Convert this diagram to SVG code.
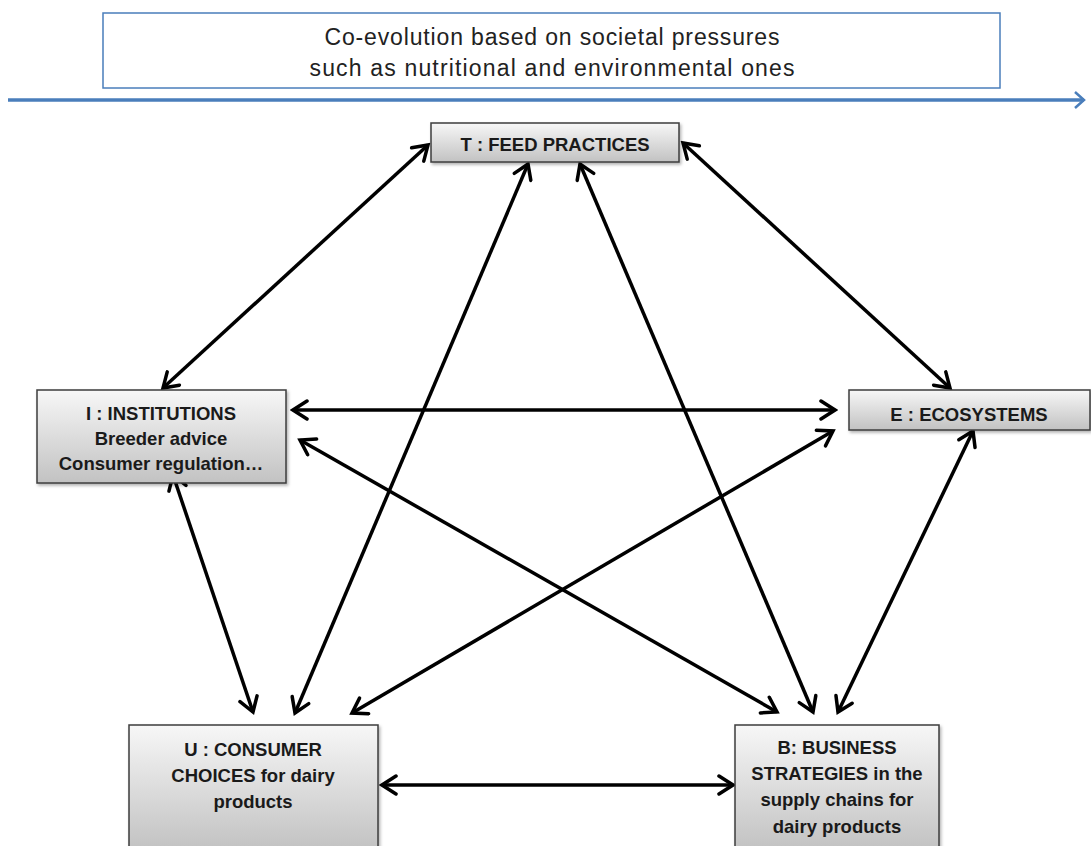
<svg xmlns="http://www.w3.org/2000/svg" width="1091" height="846" viewBox="0 0 1091 846">
<defs>
<linearGradient id="boxGrad" x1="0" y1="0" x2="0" y2="1">
<stop offset="0" stop-color="#f7f7f7"/>
<stop offset="1" stop-color="#c2c2c2"/>
</linearGradient>
<filter id="shadow" x="-10%" y="-10%" width="130%" height="140%">
<feDropShadow dx="1.5" dy="2" stdDeviation="1.5" flood-color="#000" flood-opacity="0.3"/>
</filter>
<marker id="head" markerUnits="userSpaceOnUse" viewBox="0 0 22 22" markerWidth="22" markerHeight="22" refX="19" refY="11" orient="auto-start-reverse">
<path d="M5,2 L19,11 L5,20" fill="none" stroke="#000" stroke-width="3.5" stroke-linecap="round" stroke-linejoin="miter"/>
</marker>
<marker id="blueHead" markerUnits="userSpaceOnUse" viewBox="0 0 16 20" markerWidth="16" markerHeight="20" refX="13" refY="10" orient="auto">
<path d="M4,2 L13,10 L4,18" fill="none" stroke="#4a7ebb" stroke-width="2.5"/>
</marker>
</defs>
<style>
.box{fill:url(#boxGrad);stroke:#3c3c3c;stroke-width:1.5;filter:url(#shadow)}
.lbl{font-family:"Liberation Sans",Arial,sans-serif;font-weight:bold;font-size:18.5px;fill:#1a1a1a;text-anchor:middle}
.top{font-family:"Liberation Sans",Arial,sans-serif;font-size:23px;fill:#222;text-anchor:middle}
.conn{stroke:#000;stroke-width:3.5;fill:none;marker-start:url(#head);marker-end:url(#head)}
</style>
<rect x="0" y="0" width="1091" height="846" fill="#fff"/>
<g id="banner">
<rect x="103" y="13" width="897" height="75" fill="#fff" stroke="#4a7ebb" stroke-width="1.5"/>
<text class="top" x="552" y="45" textLength="455" lengthAdjust="spacing">Co-evolution based on societal pressures</text>
<text class="top" x="552" y="76" textLength="485" lengthAdjust="spacing">such as nutritional and environmental ones</text>
</g>
<g id="timeline">
<line x1="8" y1="100" x2="1084" y2="100" stroke="#4a7ebb" stroke-width="3.5" marker-end="url(#blueHead)"/>
</g>
<g id="connectors">
<line class="conn" x1="428" y1="145" x2="163" y2="388"/>
<line class="conn" x1="683" y1="143" x2="950" y2="388"/>
<line class="conn" x1="528" y1="164" x2="295" y2="713"/>
<line class="conn" x1="580" y1="164" x2="813" y2="712"/>
<line class="conn" x1="293" y1="410" x2="835" y2="410"/>
<line class="conn" x1="300" y1="440" x2="777" y2="712"/>
<line class="conn" x1="833" y1="431" x2="352" y2="713"/>
<line class="conn" x1="973" y1="431" x2="838" y2="712"/>
<line class="conn" x1="173" y1="475" x2="253" y2="712"/>
<line class="conn" x1="382" y1="785" x2="733" y2="785"/>
</g>
<g id="node-T">
<rect class="box" x="431" y="123" width="248" height="39"/>
<text class="lbl" x="555" y="151">T : FEED PRACTICES</text>
</g>
<g id="node-I">
<rect class="box" x="37" y="390" width="249" height="93"/>
<text class="lbl" x="161" y="420">I : INSTITUTIONS</text>
<text class="lbl" x="161" y="445">Breeder advice</text>
<text class="lbl" x="161" y="470">Consumer regulation…</text>
</g>
<g id="node-E">
<rect class="box" x="849" y="390" width="241" height="40"/>
<text class="lbl" x="969" y="421">E : ECOSYSTEMS</text>
</g>
<g id="node-U">
<rect class="box" x="129" y="725" width="249" height="125"/>
<text class="lbl" x="253" y="756">U : CONSUMER</text>
<text class="lbl" x="253" y="782">CHOICES for dairy</text>
<text class="lbl" x="253" y="808">products</text>
</g>
<g id="node-B">
<rect class="box" x="735" y="725" width="204" height="125"/>
<text class="lbl" x="837" y="754">B: BUSINESS</text>
<text class="lbl" x="837" y="780">STRATEGIES in the</text>
<text class="lbl" x="837" y="806">supply chains for</text>
<text class="lbl" x="837" y="833">dairy products</text>
</g>
</svg>
